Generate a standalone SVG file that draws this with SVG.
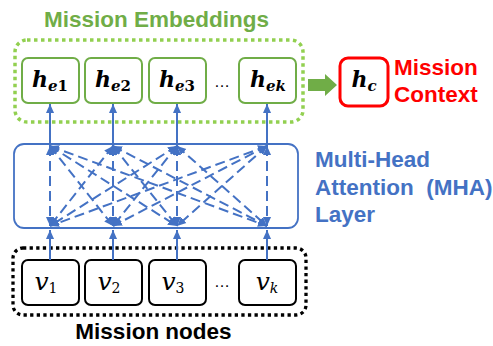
<svg xmlns="http://www.w3.org/2000/svg" width="493" height="346" viewBox="0 0 493 346">
<defs>
<style>
.title{font-family:"Liberation Sans",Arial,sans-serif;font-weight:bold;font-size:22.5px}
.gbox{fill:#fff;stroke:#70AD47;stroke-width:2}
.kbox{fill:#fff;stroke:#000;stroke-width:2}
.hl{font-family:"DejaVu Serif",serif;font-weight:bold;font-style:italic;font-size:22px;fill:#000}
.vl{font-family:"DejaVu Serif",serif;font-style:italic;font-size:25px;fill:#000}
.sub{font-size:15px}
.vsub{font-size:14px}
.up{font-style:normal}
.dots{font-family:"Liberation Sans",Arial,sans-serif;font-size:16px;fill:#000}
.solid{stroke:#4472C4;stroke-width:2;fill:none;marker-end:url(#ah)}
.dash{stroke:#4472C4;stroke-width:2;fill:none;stroke-dasharray:10 5;marker-start:url(#ah);marker-end:url(#ah)}
</style>
<marker id="ah" viewBox="0 0 10 10" refX="10" refY="5" markerWidth="4.5" markerHeight="4.5" orient="auto-start-reverse" markerUnits="strokeWidth">
<path d="M0,0.5 L10,5 L0,9.5 z" fill="#4472C4"/>
</marker>
</defs>
<rect width="493" height="346" fill="#fff"/>

<text class="title" x="156.5" y="27" text-anchor="middle" fill="#70AD47">Mission Embeddings</text>
<rect x="15" y="40" width="288" height="82" rx="12" fill="none" stroke="#92D050" stroke-width="3.5" stroke-dasharray="3.5 3.5"/>

<g id="he1"><rect class="gbox" x="22" y="58" width="57" height="45" rx="6"/><text class="hl" x="50" y="87" text-anchor="middle">h<tspan class="sub" dy="4">e<tspan class="up">1</tspan></tspan></text></g>
<g id="he2"><rect class="gbox" x="85" y="58" width="57" height="45" rx="6"/><text class="hl" x="113" y="87" text-anchor="middle">h<tspan class="sub" dy="4">e<tspan class="up">2</tspan></tspan></text></g>
<g id="he3"><rect class="gbox" x="149" y="58" width="57" height="45" rx="6"/><text class="hl" x="177" y="87" text-anchor="middle">h<tspan class="sub" dy="4">e<tspan class="up">3</tspan></tspan></text></g>
<text class="dots" x="222" y="87" text-anchor="middle">…</text>
<g id="hek"><rect class="gbox" x="239" y="58" width="57" height="45" rx="6"/><text class="hl" x="268" y="87" text-anchor="middle">h<tspan class="sub" dy="4">ek</tspan></text></g>

<g id="hc">
<rect x="340" y="58" width="48" height="48" rx="8" fill="#fff" stroke="#FF0000" stroke-width="3"/>
<text class="hl" x="364" y="87" text-anchor="middle">h<tspan class="sub" dy="4">c</tspan></text>
</g>
<text class="title" fill="#FF0000"><tspan x="394" y="75">Mission</tspan><tspan x="394" y="102">Context</tspan></text>

<g id="mha">
<rect x="14" y="144" width="284" height="84" rx="10" fill="none" stroke="#4472C4" stroke-width="1.8"/>
</g>
<text class="title" fill="#4472C4"><tspan x="315" y="167">Multi-Head</tspan><tspan x="315" y="195" xml:space="preserve">Attention  (MHA)</tspan><tspan x="315" y="222">Layer</tspan></text>

<text class="title" x="153.5" y="339" text-anchor="middle" fill="#000">Mission nodes</text>
<rect x="13" y="248" width="293" height="67" rx="10" fill="none" stroke="#000" stroke-width="3.3" stroke-dasharray="3.3 3.3"/>

<g id="v1"><rect class="kbox" x="22" y="260" width="57" height="45" rx="6"/><text class="vl" x="46" y="290" text-anchor="middle">v<tspan class="vsub up" dy="3">1</tspan></text></g>
<g id="v2"><rect class="kbox" x="85" y="260" width="57" height="45" rx="6"/><text class="vl" x="109" y="290" text-anchor="middle">v<tspan class="vsub up" dy="3">2</tspan></text></g>
<g id="v3"><rect class="kbox" x="149" y="260" width="57" height="45" rx="6"/><text class="vl" x="173" y="290" text-anchor="middle">v<tspan class="vsub up" dy="3">3</tspan></text></g>
<text class="dots" x="222" y="287" text-anchor="middle">…</text>
<g id="vk"><rect class="kbox" x="239" y="260" width="57" height="45" rx="6"/><text class="vl" x="267" y="290" text-anchor="middle">v<tspan class="vsub" dy="3">k</tspan></text></g>

<g id="connectors">
<polygon points="308,79 325,79 325,74 337,85 325,96 325,91 308,91" fill="#70AD47"/>
<line class="solid" x1="50" y1="146" x2="50" y2="104"/>
<line class="solid" x1="113" y1="146" x2="113" y2="104"/>
<line class="solid" x1="177" y1="146" x2="177" y2="104"/>
<line class="solid" x1="267" y1="146" x2="267" y2="104"/>
<line class="solid" x1="50" y1="260" x2="50" y2="230"/>
<line class="solid" x1="113" y1="260" x2="113" y2="230"/>
<line class="solid" x1="177" y1="260" x2="177" y2="230"/>
<line class="solid" x1="267" y1="260" x2="267" y2="230"/>
<line class="dash" x1="50" y1="146" x2="50" y2="226"/>
<line class="dash" x1="50" y1="146" x2="113" y2="226"/>
<line class="dash" x1="50" y1="146" x2="177" y2="226"/>
<line class="dash" x1="50" y1="146" x2="267" y2="226"/>
<line class="dash" x1="113" y1="146" x2="50" y2="226"/>
<line class="dash" x1="113" y1="146" x2="113" y2="226"/>
<line class="dash" x1="113" y1="146" x2="177" y2="226"/>
<line class="dash" x1="113" y1="146" x2="267" y2="226"/>
<line class="dash" x1="177" y1="146" x2="50" y2="226"/>
<line class="dash" x1="177" y1="146" x2="113" y2="226"/>
<line class="dash" x1="177" y1="146" x2="177" y2="226"/>
<line class="dash" x1="177" y1="146" x2="267" y2="226"/>
<line class="dash" x1="267" y1="146" x2="50" y2="226"/>
<line class="dash" x1="267" y1="146" x2="113" y2="226"/>
<line class="dash" x1="267" y1="146" x2="177" y2="226"/>
<line class="dash" x1="267" y1="146" x2="267" y2="226"/>
</g>
</svg>
